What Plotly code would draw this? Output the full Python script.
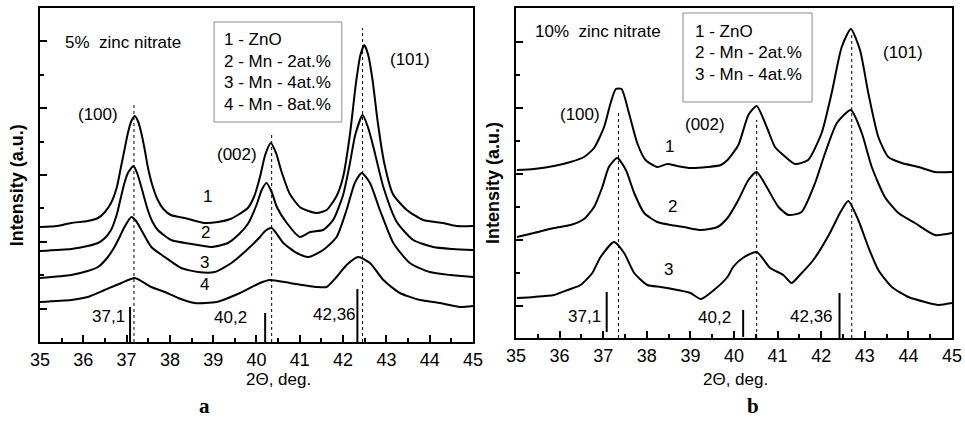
import plotly.graph_objects as go

# ---------------- DATA (2Θ in deg, intensity in a.u.) ----------------
# Panel a: 5% zinc nitrate
a_x1 = [35.0, 35.4, 35.72, 36.1, 36.34, 36.5, 36.64, 36.77, 36.87, 36.95, 37.03, 37.11, 37.19, 37.27, 37.34, 37.42,
        37.49, 37.6, 37.72, 37.85, 38.02, 38.34, 38.8, 39.11, 39.4, 39.57, 39.8, 39.95, 40.08, 40.2, 40.33, 40.45,
        40.58, 40.77, 41.0, 41.2, 41.39, 41.62, 41.85, 42.0, 42.15, 42.3, 42.4, 42.49, 42.58, 42.68, 42.8, 42.95,
        43.15, 43.47, 43.85, 44.31, 44.62, 45.0]
a_y1 = [115, 116, 119, 121, 124, 130, 139, 154, 175, 192, 209, 221, 226, 220, 209, 192,
        175, 156, 142, 133, 127, 124, 119, 120, 123, 127, 134, 146, 165, 187, 199, 189,
        170, 148, 135, 131, 129, 132, 146, 165, 205, 260, 287, 297, 287, 262, 220, 179,
        148, 132, 122, 119, 116, 116]

a_x2 = [35.0, 35.72, 36.1, 36.34, 36.5, 36.64, 36.77, 36.87, 36.95, 37.03, 37.16, 37.25, 37.34, 37.49, 37.6, 37.72,
        38.03, 38.5, 38.96, 39.34, 39.6, 39.8, 40.0, 40.12, 40.23, 40.35, 40.47, 40.7, 41.0, 41.24, 41.54, 41.77,
        42.0, 42.15, 42.28, 42.45, 42.58, 42.7, 42.93, 43.24, 43.62, 44.08, 44.54, 45.0]
a_y2 = [91, 93, 96, 99, 104, 112, 127, 145, 159, 169, 176, 168, 155, 132, 120, 112,
        102, 98, 95, 99, 108, 118, 137, 152, 159, 150, 135, 119, 105, 110, 112, 122,
        147, 177, 207, 227, 214, 195, 155, 120, 102, 95, 93, 92]

a_x3 = [35.0, 35.72, 36.1, 36.34, 36.55, 36.72, 36.85, 36.95, 37.11, 37.22, 37.34, 37.57, 37.88, 38.26, 38.65, 39.03,
        39.42, 39.8, 40.08, 40.2, 40.35, 40.62, 40.93, 41.2, 41.54, 41.85, 42.08, 42.27, 42.43, 42.62, 42.85, 43.16,
        43.54, 44.0, 44.47, 45.0]
a_y3 = [64, 67, 71, 75, 84, 95, 106, 115, 125, 121, 112, 95, 85, 74, 70, 70,
        79, 93, 105, 111, 114, 99, 89, 85, 92, 105, 132, 159, 169, 159, 132, 99,
        79, 70, 67, 65]

a_x4 = [35.0, 35.72, 36.1, 36.49, 36.88, 37.19, 37.57, 37.88, 38.19, 38.57, 39.08, 39.62, 40.08, 40.31, 40.77, 41.39,
        41.62, 41.85, 42.08, 42.35, 42.62, 42.93, 43.31, 43.78, 44.24, 44.7, 45.0]
a_y4 = [40, 42, 45, 52, 59, 64, 55, 50, 44, 39, 40, 49, 59, 62, 59, 55,
        55, 65, 77, 85, 79, 62, 49, 42, 39, 35, 36]

# Panel b: 10% zinc nitrate
b_x1 = [35.02, 35.41, 35.87, 36.25, 36.56, 36.79, 37.02, 37.17, 37.29, 37.42, 37.59, 37.78, 37.97, 38.24, 38.47, 38.7,
        39.0, 39.39, 39.7, 39.85, 40.1, 40.33, 40.52, 40.75, 40.94, 41.13, 41.4, 41.7, 42.01, 42.24, 42.47, 42.68,
        42.89, 43.08, 43.31, 43.54, 43.85, 44.23, 44.61, 45.0]
b_y1 = [168, 169, 172, 176, 181, 190, 211, 235, 249, 249, 225, 195, 178, 171, 174, 172,
        170, 171, 173, 178, 193, 223, 232, 211, 191, 183, 174, 178, 205, 245, 291, 309,
        288, 245, 201, 181, 175, 171, 166, 166]

b_x2 = [35.02, 35.41, 35.87, 36.25, 36.56, 36.79, 36.98, 37.13, 37.32, 37.52, 37.71, 37.94, 38.24, 38.55, 38.85, 39.24,
        39.62, 39.85, 40.1, 40.33, 40.52, 40.75, 41.02, 41.25, 41.55, 41.86, 42.09, 42.36, 42.68, 42.93, 43.16, 43.46,
        43.77, 44.15, 44.61, 45.0]
b_y2 = [101, 105, 110, 113, 119, 131, 151, 171, 180, 168, 145, 125, 116, 113, 111, 108,
        111, 120, 138, 158, 166, 151, 131, 123, 126, 155, 185, 215, 228, 205, 171, 141,
        125, 115, 103, 105]

b_x3 = [35.02, 35.41, 35.87, 36.18, 36.48, 36.75, 36.94, 37.25, 37.48, 37.71, 38.01, 38.32, 38.7, 39.0, 39.24, 39.54,
        39.85, 39.98, 40.2, 40.52, 40.83, 41.13, 41.32, 41.51, 41.82, 42.2, 42.43, 42.62, 42.85, 43.08, 43.31, 43.62,
        44.0, 44.38, 44.69, 45.0]
b_y3 = [40, 41, 43, 48, 53, 65, 81, 96, 85, 65, 53, 51, 48, 45, 39, 48,
        61, 71, 80, 86, 70, 63, 55, 63, 78, 105, 125, 137, 118, 91, 68, 51,
        41, 36, 33, 35]

# reflections: observed peak positions (dashed) and reference lines (solid)
a_peak_pos = [37.17, 40.35, 42.45]
a_peak_top = [239, 209, 314]
b_peak_pos = [37.35, 40.52, 42.70]
b_peak_top = [228, 218, 305]
ref_labels = ["37,1", "40,2", "42,36"]
a_ref_pos = [37.08, 40.20, 42.33]
a_ref_top = [35, 29, 53]
a_ref_bot = [0, 0, 0]
b_ref_pos = [37.08, 40.21, 42.42]
b_ref_top = [46, 28, 45]
b_ref_bot = [6, 1, 0]

hkl = ["(100)", "(002)", "(101)"]
a_legend = ["1 - ZnO", "2 - Mn - 2at.%", "3 - Mn - 4at.%", "4 - Mn - 8at.%"]
b_legend = ["1 - ZnO", "2 - Mn - 2at.%", "3 - Mn - 4at.%"]
x_ticks = [35, 36, 37, 38, 39, 40, 41, 42, 43, 44, 45]

# ---------------- FIGURE ----------------
FONT = "Liberation Sans, Arial, sans-serif"
SERIF = "Liberation Serif, Times New Roman, serif"
fig = go.Figure()

def curve(x, y, xa, ya):
    fig.add_trace(go.Scatter(x=x, y=y, mode="lines", xaxis=xa, yaxis=ya,
                             line=dict(color="black", width=2, shape="spline", smoothing=0.6),
                             hoverinfo="skip", showlegend=False))

for xs, ys in [(a_x1, a_y1), (a_x2, a_y2), (a_x3, a_y3), (a_x4, a_y4)]:
    curve(xs, ys, "x", "y")
for xs, ys in [(b_x1, b_y1), (b_x2, b_y2), (b_x3, b_y3)]:
    curve(xs, ys, "x2", "y2")

shapes = []
def vlines(pos, top, bot, xref, yref, dash, width):
    for p, t, b in zip(pos, top, bot):
        shapes.append(dict(type="line", xref=xref, yref=yref, x0=p, x1=p, y0=b, y1=t,
                           line=dict(color="black", width=width, dash=dash)))

vlines(a_peak_pos, a_peak_top, [0, 0, 0], "x", "y", "3px,3px", 1)
vlines(b_peak_pos, b_peak_top, [0, 0, 0], "x2", "y2", "3px,3px", 1)
vlines(a_ref_pos, a_ref_top, a_ref_bot, "x", "y", "solid", 2)
vlines(b_ref_pos, b_ref_top, b_ref_bot, "x2", "y2", "solid", 2)

# legend boxes
shapes.append(dict(type="rect", xref="x", yref="y", x0=39.02, x1=41.97, y0=220, y1=320,
                   line=dict(color="#8a8a8a", width=1)))
shapes.append(dict(type="rect", xref="x2", yref="y2", x0=38.83, x1=41.79, y0=236, y1=325,
                   line=dict(color="#8a8a8a", width=1)))

ann = []
def txt(x, y, s, xref, yref, size=17, xanchor="center", yanchor="middle", bold=False, family=FONT, angle=0):
    ann.append(dict(x=x, y=y, text=("<b>%s</b>" % s) if bold else s, xref=xref, yref=yref,
                    showarrow=False, xanchor=xanchor, yanchor=yanchor, textangle=angle,
                    font=dict(family=family, size=size, color="black")))

# panel a texts
txt(35.53, 299, "5%  zinc nitrate", "x", "y", xanchor="left")
for s, yy in zip(a_legend, [302, 280, 259, 237]):
    txt(39.2, yy, s, "x", "y", xanchor="left")
for s, xx, yy in zip(hkl, [36.34, 39.55, 43.55], [227, 187, 282]):
    txt(xx, yy, s, "x", "y")
for s, xx, yy in zip(["1", "2", "3", "4"], [38.86, 38.83, 38.81, 38.81], [145, 109, 79, 57]):
    txt(xx, yy, s, "x", "y")
for s, xx, yy in zip(ref_labels, [36.59, 39.39, 41.79], [25, 24, 27]):
    txt(xx, yy, s, "x", "y")

# panel b texts
txt(35.39, 306, "10%  zinc nitrate", "x2", "y2", xanchor="left")
for s, yy in zip(b_legend, [306, 285, 263]):
    txt(39.06, yy, s, "x2", "y2", xanchor="left")
for s, xx, yy in zip(hkl, [36.47, 39.33, 43.88], [223, 213, 285]):
    txt(xx, yy, s, "x2", "y2")
for s, xx, yy in zip(["1", "2", "3"], [38.53, 38.58, 38.49], [191, 131, 68]):
    txt(xx, yy, s, "x2", "y2")
for s, xx, yy in zip(ref_labels, [36.56, 39.56, 41.77], [21, 20, 21]):
    txt(xx, yy, s, "x2", "y2")

# axis titles and panel letters (paper coords)
txt(0.2881, 0.0974, "2Θ, deg.", "paper", "paper")
txt(0.7617, 0.0974, "2Θ, deg.", "paper", "paper")
txt(0.0180, 0.5606, "Intensity (a.u.)", "paper", "paper", size=18, bold=True, angle=-90)
txt(0.5109, 0.5653, "Intensity (a.u.)", "paper", "paper", size=18, bold=True, angle=-90)
txt(0.2124, 0.0024, "a", "paper", "paper", size=21, yanchor="bottom", bold=True, family=SERIF)
txt(0.7803, 0.0024, "b", "paper", "paper", size=21, yanchor="bottom", bold=True, family=SERIF)

xcommon = dict(range=[35, 45], tickmode="array", tickvals=x_ticks, ticks="inside", ticklen=7, tickwidth=2,
               tickcolor="black", showline=True, linewidth=2, linecolor="black", mirror=True,
               showgrid=False, zeroline=False, fixedrange=True, automargin=False,
               tickfont=dict(family=FONT, size=18, color="black"),
               minor=dict(dtick=0.5, tick0=35, ticks="inside", ticklen=4, tickwidth=2, tickcolor="black",
                          showgrid=False))
ycommon = dict(ticks="inside", ticklen=7, tickwidth=2, tickcolor="black", showline=True, linewidth=2,
               linecolor="black", mirror=True, showgrid=False, zeroline=False, showticklabels=False,
               fixedrange=True, automargin=False)

fig.update_layout(
    width=965, height=421, margin=dict(l=0, r=0, t=0, b=0, autoexpand=False),
    paper_bgcolor="white", plot_bgcolor="white", showlegend=False,
    xaxis=dict(domain=[0.04145, 0.49016], anchor="y", **xcommon),
    yaxis=dict(domain=[0.18765, 0.98100], anchor="x", range=[0, 334], tick0=33.4, dtick=66.8,
               minor=dict(tick0=0, dtick=33.4, ticks="inside", ticklen=4, tickwidth=2, tickcolor="black"),
               **ycommon),
    xaxis2=dict(domain=[0.53472, 0.98653], anchor="y2", **xcommon),
    yaxis2=dict(domain=[0.19715, 0.98100], anchor="x2", range=[0, 330], tick0=32, dtick=66,
                minor=dict(tick0=-1, dtick=33, ticks="inside", ticklen=4, tickwidth=2, tickcolor="black"),
                **ycommon),
    shapes=shapes, annotations=ann,
)

fig.write_html("out.html", config={"displayModeBar": False},
               post_script="document.body.style.margin='0';document.body.style.overflow='hidden';")
